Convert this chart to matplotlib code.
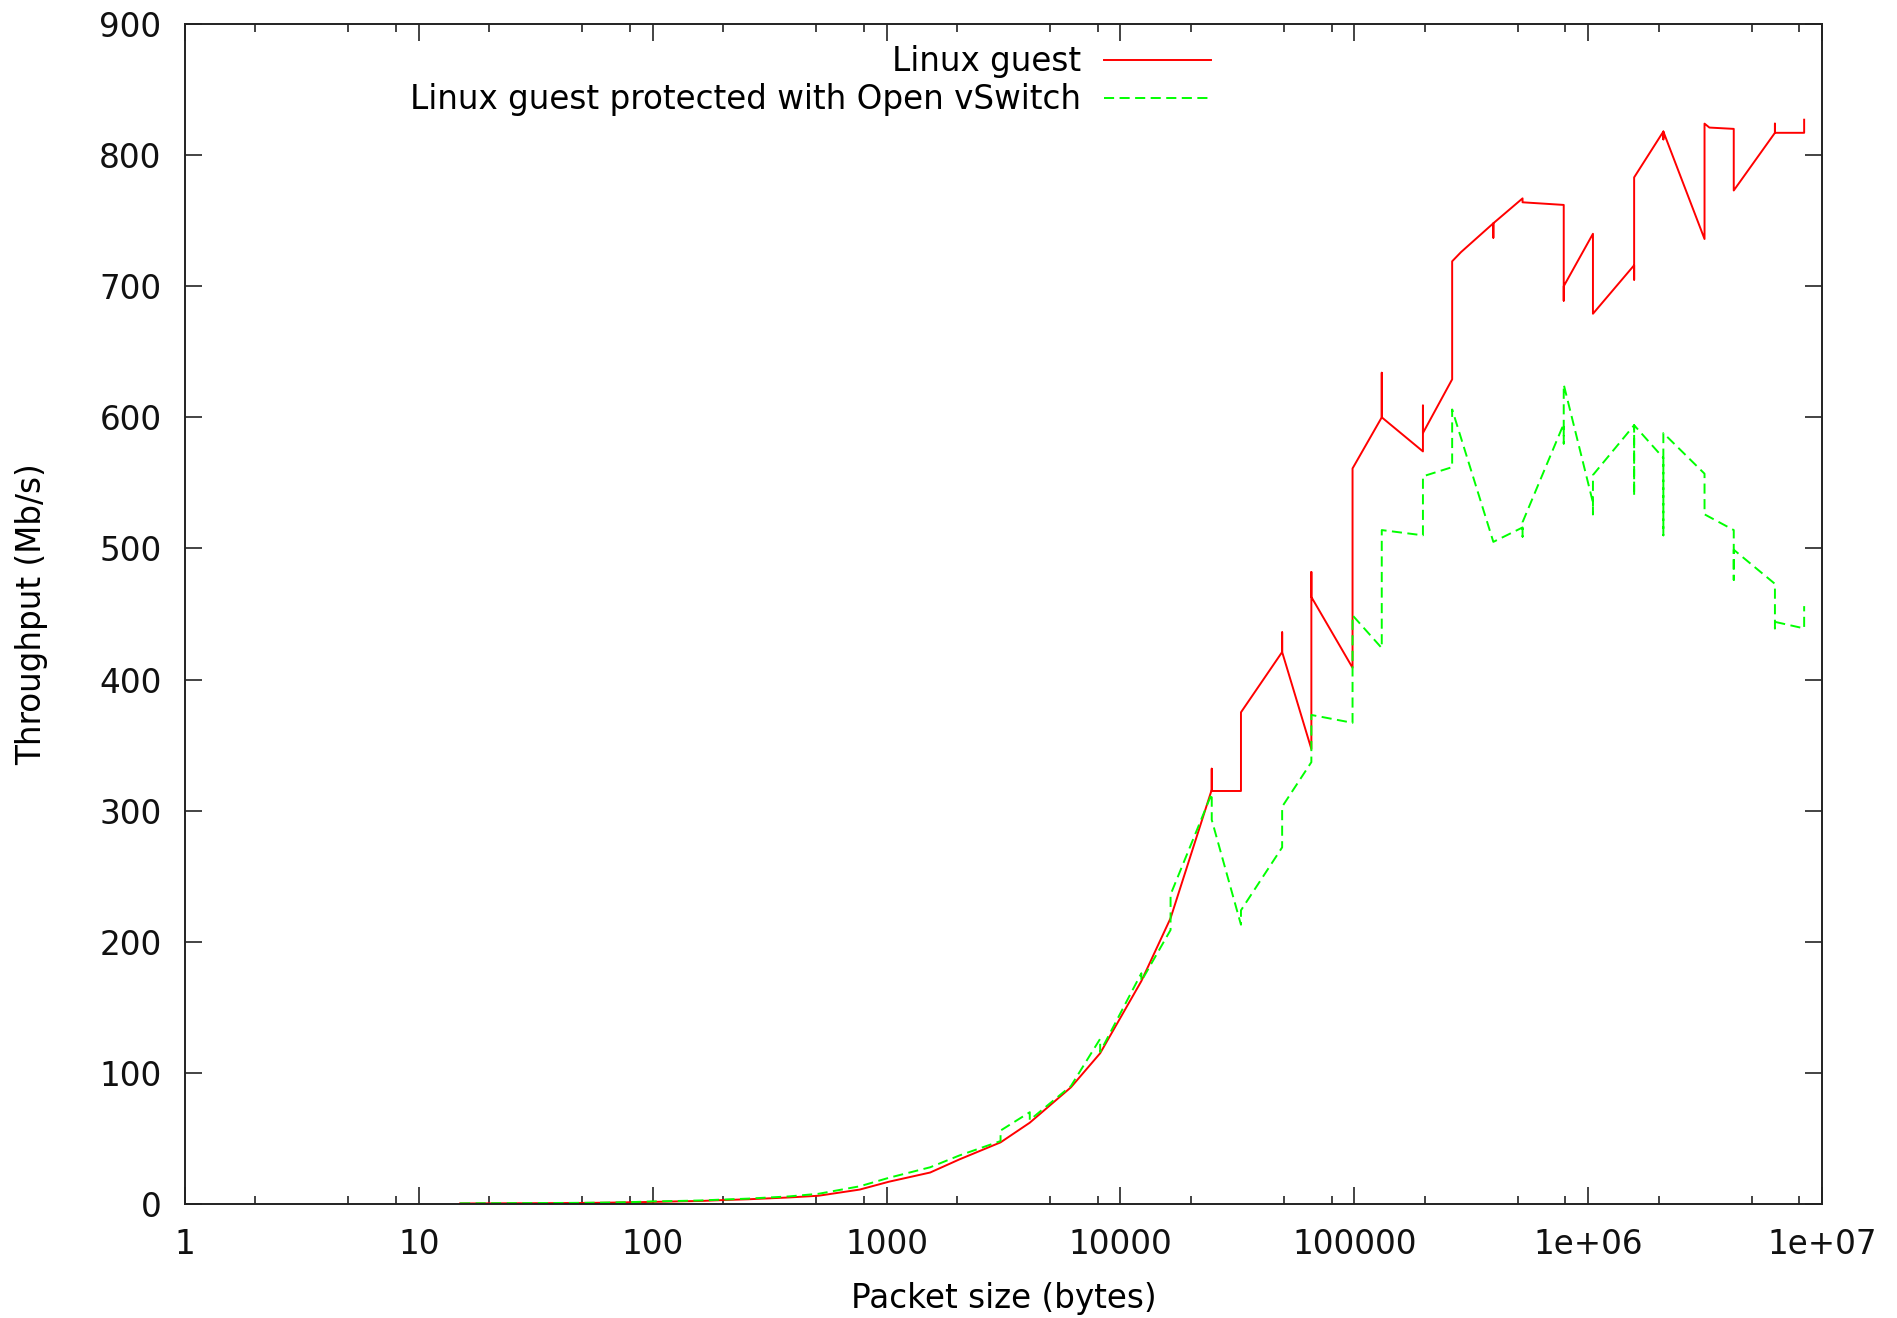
import matplotlib
matplotlib.use("Agg")
import matplotlib.pyplot as plt
from matplotlib.ticker import FixedLocator, FixedFormatter, LogLocator, NullFormatter

plt.rcParams['font.family'] = ['DejaVu Sans']

# ---- data ----
linux_x = [15, 20, 30, 40, 50, 64, 80, 100, 128, 160, 200, 256, 384, 512, 768,
           1024, 1536, 2048, 3072, 4096, 6144, 8192, 12288, 16384,
           24576, 24576, 24576, 32768, 32768, 49152, 49152, 49152,
           65536, 65536, 65536, 98304, 98304, 131072, 131072, 131072,
           196608, 196608, 196608, 262144, 262144, 286000,
           393216, 393216, 393216, 524288, 524288, 786432, 786432, 786432,
           1048576, 1048576, 1572864, 1572864, 1572864,
           2097152, 2097152, 2097152, 3145728, 3145728, 3300000,
           4194304, 4194304, 6291456, 6291456, 6291456, 8388608, 8388608]
linux_y = [0.4, 0.5, 0.6, 0.7, 0.8, 1.0, 1.3, 1.6, 2.0, 2.3, 3.0, 3.6, 5.0, 6.3, 11,
           17, 24, 34, 47, 62, 89, 115, 170, 218,
           316, 332, 315, 315, 375, 421, 436, 421,
           347, 482, 463, 409, 561, 600, 634, 600,
           574, 609, 588, 629, 719, 726,
           748, 737, 748, 767, 764, 762, 689, 700,
           740, 679, 716, 705, 783,
           818, 812, 818, 736, 824, 821,
           820, 773, 817, 824, 817, 817, 827]

ovs_x = [15, 20, 30, 40, 50, 64, 80, 100, 128, 160, 200, 256, 384, 512, 768,
         1024, 1536, 2048, 3072, 3072, 4096, 4096, 6144, 8192, 8192,
         12288, 12288, 16384, 16384, 24576, 24576, 32768, 32768,
         49152, 49152, 65536, 65536, 98304, 98304, 131072, 131072,
         196608, 196608, 262144, 262144, 393216,
         524288, 524288, 524288, 786432, 786432, 786432,
         1048576, 1048576, 1048576, 1572864, 1572864, 1572864,
         2097152, 2097152, 2097152, 3145728, 3145728,
         4194304, 4194304, 4194304, 6291456, 6291456, 6291456,
         8388608, 8388608]
ovs_y = [0.5, 0.6, 0.7, 0.8, 0.9, 1.1, 1.4, 2.0, 2.3, 2.7, 3.4, 4.1, 5.8, 7.8, 13.5,
         20, 28, 37, 48, 56, 70, 64, 90, 126, 116,
         176, 170, 209, 236, 313, 293, 213, 224,
         272, 303, 337, 373, 367, 449, 424, 514,
         510, 555, 562, 606, 505,
         516, 509, 520, 595, 580, 625,
         535, 526, 556, 594, 540, 594,
         569, 510, 588, 557, 526,
         514, 476, 499, 473, 439, 444,
         439, 456]

series_labels = ["Linux guest", "Linux guest protected with Open vSwitch"]
xtick_values = [1, 10, 100, 1000, 10000, 100000, 1e6, 1e7]
xtick_labels = ["1", "10", "100", "1000", "10000", "100000", "1e+06", "1e+07"]
ytick_values = [0, 100, 200, 300, 400, 500, 600, 700, 800, 900]
x_label = "Packet size (bytes)"
y_label = "Throughput (Mb/s)"

# ---- figure ----
FS = 23.5
fig = plt.figure(figsize=(18.97, 13.18), dpi=100)
ax = fig.add_axes([0.09752, 0.0865, 0.86294, 0.8953])

ax.plot(linux_x, linux_y, color='#ff0000', lw=1.4, label=series_labels[0])
ax.plot(ovs_x, ovs_y, color='#00ff00', lw=1.4, dashes=(5.2, 2.8), label=series_labels[1])

ax.set_xscale('log')
ax.set_xlim(1, 1e7)
ax.set_ylim(0, 900)

ax.xaxis.set_major_locator(FixedLocator(xtick_values))
ax.xaxis.set_major_formatter(FixedFormatter(xtick_labels))
ax.xaxis.set_minor_locator(LogLocator(base=10, subs=[2, 5, 8], numticks=30))
ax.xaxis.set_minor_formatter(NullFormatter())
ax.yaxis.set_major_locator(FixedLocator(ytick_values))
ax.yaxis.set_major_formatter(FixedFormatter([str(v) for v in ytick_values]))

ax.tick_params(which='both', direction='in', top=True, right=True, colors='#111111')
ax.tick_params(which='major', length=12.5, width=1.1, pad=17, labelsize=FS)
ax.tick_params(which='minor', length=6, width=1.1)

for sp in ax.spines.values():
    sp.set_linewidth(1.4)
    sp.set_color('#222222')

ax.set_xlabel(x_label, fontsize=FS)
ax.set_ylabel(y_label, fontsize=FS)
ax.xaxis.set_label_coords(0.5, -0.066)
ax.yaxis.set_label_coords(-0.0837, 0.5)

leg = ax.legend(loc='upper right', bbox_to_anchor=(0.6268, 0.982), frameon=False,
                fontsize=FS, markerfirst=False, handlelength=3.28, handletextpad=0.7,
                labelspacing=0.15, borderpad=0, borderaxespad=0)

fig.savefig('out.png', dpi=100)
